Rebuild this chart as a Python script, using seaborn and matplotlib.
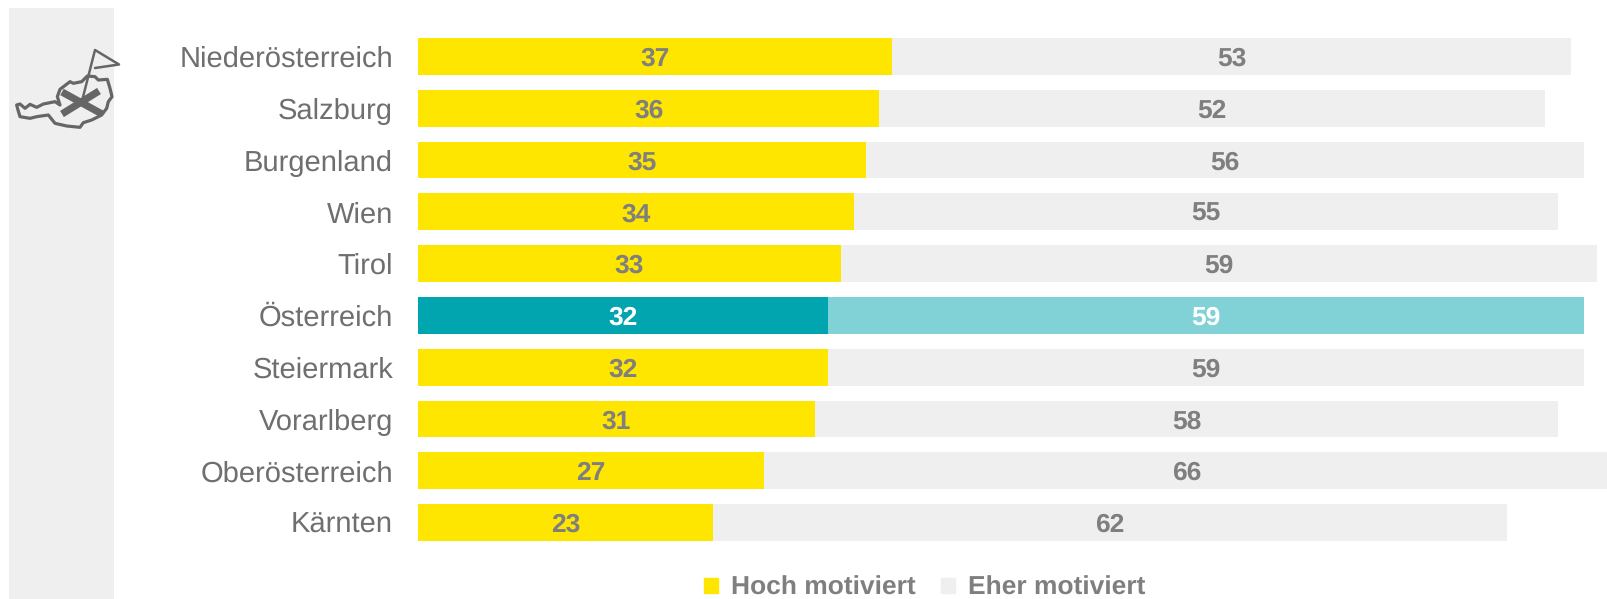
import pandas as pd
import matplotlib.pyplot as plt
import matplotlib.patches as mpatches
import seaborn as sns

# Data
states = ['Niederösterreich', 'Salzburg', 'Burgenland', 'Wien', 'Tirol',
          'Österreich', 'Steiermark', 'Vorarlberg', 'Oberösterreich', 'Kärnten']
hoch = [37, 36, 35, 34, 33, 32, 32, 31, 27, 23]
eher = [53, 52, 56, 55, 59, 59, 59, 58, 66, 62]
highlight = 'Österreich'

YELLOW = '#FFE600'
GREY = '#EFEFEF'
TEAL = '#00A5B0'
LIGHT_TEAL = '#80D2D7'
TEXT = '#7F7F7F'
LABEL = '#6F6F6F'
ICON = '#666666'

W, H = 1607, 599

df = pd.DataFrame({'state': states, 'hoch': hoch, 'eher': eher})
df['total'] = df['hoch'] + df['eher']

sns.set_theme(style='white')
plt.rcParams['font.family'] = ['Liberation Sans', 'DejaVu Sans']
plt.rcParams['text.hinting'] = 'no_hinting'

fig = plt.figure(figsize=(W / 100, H / 100), dpi=100)
ax = fig.add_axes([418 / W, 1 - 548.5 / H, (W - 418) / W, 518 / H])

# Stacked look: total bar underneath, first segment on top
back = {s: (LIGHT_TEAL if s == highlight else GREY) for s in states}
front = {s: (TEAL if s == highlight else YELLOW) for s in states}
sns.barplot(data=df, y='state', x='total', hue='state', palette=back, dodge=False, saturation=1,
            width=0.71, linewidth=0, legend=False, ax=ax)
sns.barplot(data=df, y='state', x='hoch', hue='state', palette=front, dodge=False, saturation=1,
            width=0.71, linewidth=0, legend=False, ax=ax)

for i, row in df.iterrows():
    col = 'white' if row['state'] == highlight else TEXT
    ax.text(row['hoch'] / 2, i, str(row['hoch']), ha='center', va='center_baseline',
            fontsize=19, fontweight='bold', color=col)
    ax.text(row['hoch'] + row['eher'] / 2, i, str(row['eher']), ha='center', va='center_baseline',
            fontsize=19, fontweight='bold', color=col)

ax.set_xlim(0, (W - 418) / 12.81)
ax.set_ylim(9.5, -0.5)
ax.set_xlabel('')
ax.set_ylabel('')
ax.set_xticks([])
ax.tick_params(axis='y', length=0, pad=18, labelsize=21, labelcolor=LABEL)
sns.despine(ax=ax, left=True, bottom=True, top=True, right=True)
ax.patch.set_alpha(0)

# Legend
handles = [mpatches.Patch(color=YELLOW, label='Hoch motiviert'),
           mpatches.Patch(color=GREY, label='Eher motiviert')]
leg = fig.legend(handles=handles, ncol=2, loc='center', bbox_to_anchor=(925 / W, 1 - 588 / H),
                 frameon=False, borderpad=0, handlelength=0.53, handleheight=0.53,
                 handletextpad=0.5, columnspacing=0.95,
                 prop={'size': 19, 'weight': 'bold'})
for t in leg.get_texts():
    t.set_color(TEXT)


# Left panel with the icon, positions in pixels of the image
def px(points):
    return [(x / W, 1 - y / H) for x, y in points]


fig.add_artist(mpatches.Rectangle((9 / W, 0), 105 / W, 1 - 8 / H, transform=fig.transFigure,
                                  facecolor=GREY, edgecolor='none', zorder=-1))

outline = [(50, 315), (60, 312), (75, 325), (90, 313), (110, 322), (130, 312), (165, 305), (180, 315),
           (172, 290), (180, 268), (210, 245), (220, 250), (245, 245), (262, 228), (285, 230), (295, 240),
           (322, 238), (330, 265), (336, 290), (325, 305), (320, 325), (305, 345), (275, 360), (250, 368),
           (240, 382), (200, 378), (165, 370), (145, 345), (110, 350), (90, 355), (60, 350), (54, 330)]
outline = [(x / 3, y / 3) for x, y in outline]
fig.add_artist(mpatches.Polygon(px(outline), closed=True, fill=False, edgecolor=ICON, linewidth=2.3,
                                joinstyle='round', transform=fig.transFigure))

for a, b in [((62, 92), (102, 114)), ((99, 91), (62, 114))]:
    xs, ys = zip(*px([a, b]))
    fig.add_artist(plt.Line2D(xs, ys, color=ICON, linewidth=5.2, solid_capstyle='butt',
                              transform=fig.transFigure))

flag = [(81.5, 103), (95, 50), (119, 64.5), (95, 68)]
xs, ys = zip(*px(flag))
fig.add_artist(plt.Line2D(xs, ys, color=ICON, linewidth=1.8, transform=fig.transFigure))

fig.savefig('out.png', dpi=100)
